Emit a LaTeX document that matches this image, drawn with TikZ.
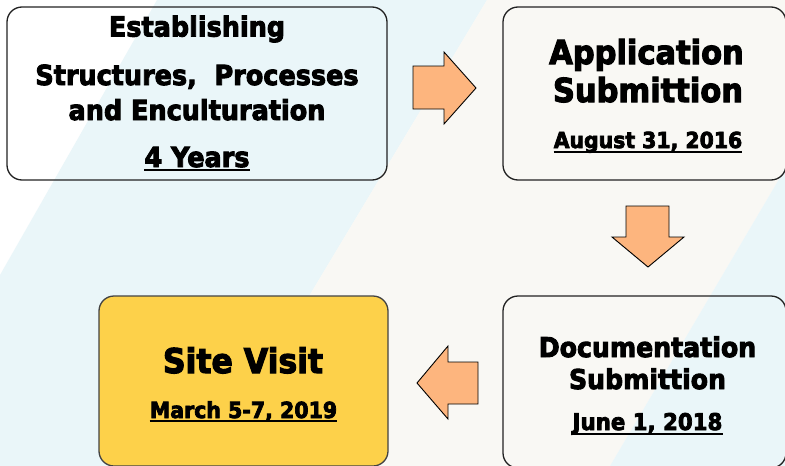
\documentclass[tikz,border=0pt]{standalone}
\usepackage{fontspec}
\newfontfamily\hv{DejaVu Sans Bold}[FakeBold=3.5]
\newcommand\tallline[1]{\scalebox{1}[1.08]{#1}}
\definecolor{bgblue}{HTML}{EAF6F9}
\definecolor{bgcream}{HTML}{F9F8F4}
\definecolor{peach}{HTML}{FDB57E}
\definecolor{sun}{HTML}{FDD14A}
\definecolor{edge}{HTML}{222222}
\tikzset{
  stagebox/.style={draw=edge, line width=1.3pt, rounded corners=15pt, inner sep=0pt},
  txt/.style={anchor=base, inner sep=0pt, font=\hv},
  uline/.style={line width=1.6pt, draw=black},
  blockarrow/.style={fill=peach, draw=black, line width=0.9pt, line join=miter}
}
\begin{document}
\begin{tikzpicture}[x=1pt,y=-1pt]
\useasboundingbox (0,0) rectangle (785,466);
\clip (0,0) rectangle (785,466);
% background
\fill[white] (0,0) rectangle (785,466);
\fill[bgblue] (157,0) -- (487,0) -- (207,466) -- (0,466) -- (0,275) -- cycle;
\fill[bgcream] (487,0) -- (785,0) -- (785,169) -- (610,466) -- (207,466) -- cycle;
\fill[bgblue] (785,169) -- (785,466) -- (610,466) -- cycle;

% boxes
\node[stagebox, minimum width=380pt, minimum height=173pt] (est) at (197,93.5) {};
\node[stagebox, minimum width=283pt, minimum height=173pt] (app) at (644.5,93.5) {};
\node[stagebox, minimum width=283pt, minimum height=172pt] (doc) at (644.5,382) {};
\node[stagebox, fill=sun, draw=edge!85, minimum width=289pt, minimum height=170pt] (site) at (243.5,381) {};

% texts box 1
\node[txt, font=\hv\fontsize{25.5}{30}\selectfont] (e1) at (197,36.5) {\tallline{Establishing}};
\node[txt, font=\hv\fontsize{25.5}{30}\selectfont] (e2) at (197,85) {\tallline{Structures,\ \ Processes}};
\node[txt, font=\hv\fontsize{25.5}{30}\selectfont] (e3) at (197,120) {\tallline{and Enculturation}};
\node[txt, font=\hv\fontsize{25.5}{30}\selectfont] (e4) at (197,167) {\tallline{4 Years}};
\draw[uline] ([yshift=-3pt]e4.base west) -- ([yshift=-3pt]e4.base east);

% texts box 2
\node[txt, font=\hv\fontsize{30.5}{36}\selectfont] (a1) at (646.5,64) {\tallline{Application}};
\node[txt, font=\hv\fontsize{30.5}{36}\selectfont] (a2) at (648,102) {\tallline{Submittion}};
\node[txt, font=\hv\fontsize{20.4}{24}\selectfont] (a3) at (648,148) {\tallline{August 31, 2016}};
\draw[uline] ([yshift=-4pt]a3.base west) -- ([yshift=-4pt]a3.base east);

% texts box 3
\node[txt, font=\hv\fontsize{25.2}{30}\selectfont] (d1) at (647.5,357) {\tallline{Documentation}};
\node[txt, font=\hv\fontsize{25.2}{30}\selectfont] (d2) at (647.5,389) {\tallline{Submittion}};
\node[txt, font=\hv\fontsize{21.3}{25}\selectfont] (d3) at (647.5,430) {\tallline{June 1, 2018}};
\draw[uline] ([yshift=-4pt]d3.base west) -- ([yshift=-4pt]d3.base east);

% texts box 4
\node[txt, font=\hv\fontsize{31.5}{36}\selectfont] (s1) at (243,373) {\tallline{Site Visit}};
\node[txt, font=\hv\fontsize{20.5}{24}\selectfont] (s2) at (243.5,418) {\tallline{March 5-7, 2019}};
\draw[uline] ([yshift=-3pt]s2.base west) -- ([yshift=-3pt]s2.base east);

% block arrows
\draw[blockarrow] (413,66) -- (444,66) -- (444,52) -- (476,88) -- (444,124) -- (444,109) -- (413,109) -- cycle;
\draw[blockarrow] (626,206) -- (669,206) -- (669,237) -- (684,237) -- (648,267) -- (612,237) -- (626,237) -- cycle;
\draw[blockarrow] (478,362) -- (448,362) -- (448,346) -- (417,383) -- (448,419) -- (448,404) -- (478,404) -- cycle;
\end{tikzpicture}
\end{document}
